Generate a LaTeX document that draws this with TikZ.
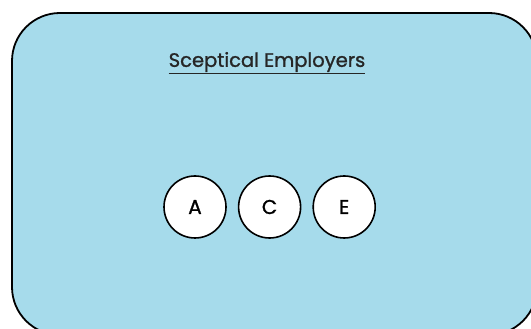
\documentclass[tikz,border=0pt]{standalone}
\usepackage{fontspec}
\setmainfont{Poppins}[FakeBold=1.2]
\usetikzlibrary{positioning}
\definecolor{panelblue}{RGB}{166,219,235}

\begin{document}
\begin{tikzpicture}[x=1pt, y=1pt, node distance=11pt]
  \useasboundingbox (0,0) rectangle (531,329);
  \fill[white] (0,0) rectangle (531,329);
  \draw[line width=1.8pt, rounded corners=48pt, fill=panelblue]
    (12,-6) rectangle (537,316);

  \node[font=\fontsize{19.5}{22}\selectfont, text=black!85] (title) at (267,266)
    {\underline{Sceptical Employers}};

  \node[draw, circle, line width=1.6pt, fill=white, minimum size=62pt,
        inner sep=0pt, font=\fontsize{20}{22}\selectfont] (a) at (195,122) {A};
  \node[draw, circle, line width=1.6pt, fill=white, minimum size=62pt,
        inner sep=0pt, font=\fontsize{20}{22}\selectfont, right=of a] (c) {C};
  \node[draw, circle, line width=1.6pt, fill=white, minimum size=62pt,
        inner sep=0pt, font=\fontsize{20}{22}\selectfont, right=of c] (e) {E};
\end{tikzpicture}
\end{document}
